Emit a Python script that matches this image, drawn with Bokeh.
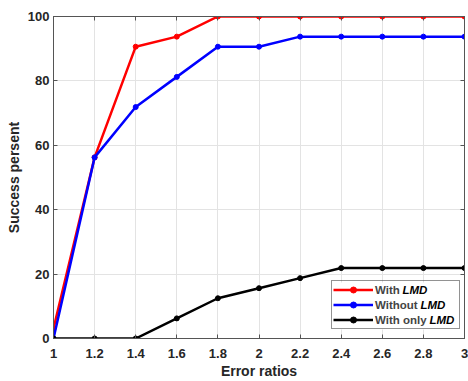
from bokeh.plotting import figure
from bokeh.models import (Range1d, LinearAxis, Legend, LegendItem, Label, FixedTicker, BoxAnnotation)
from bokeh.embed import file_html
from bokeh.resources import INLINE

# ---- data ----
x_ratios = [1.0, 1.2, 1.4, 1.6, 1.8, 2.0, 2.2, 2.4, 2.6, 2.8, 3.0]
with_lmd = [3.125, 56.25, 90.625, 93.75, 100, 100, 100, 100, 100, 100, 100]
without_lmd = [0, 56.25, 71.875, 81.25, 90.625, 90.625, 93.75, 93.75, 93.75, 93.75, 93.75]
only_lmd = [0, 0, 0, 6.25, 12.5, 15.625, 18.75, 21.875, 21.875, 21.875, 21.875]

x_ticks = [1, 1.2, 1.4, 1.6, 1.8, 2, 2.2, 2.4, 2.6, 2.8, 3]
x_tick_labels = ["1", "1.2", "1.4", "1.6", "1.8", "2", "2.2", "2.4", "2.6", "2.8", "3"]
y_ticks = [0, 20, 40, 60, 80, 100]

series_names = ["With", "Without", "With only"]
series_italic = ["LMD", "LMD", "LMD"]
series_colors = ["#ff0000", "#0000ff", "#000000"]

FONT = "Liberation Sans"
AXIS_COLOR = "#555555"
TEXT_COLOR = "#262626"

p = figure(width=468, height=381, output_backend="svg", toolbar_location=None,
           x_range=Range1d(1, 3), y_range=Range1d(0, 100),
           min_border_left=53, min_border_right=4, min_border_top=16, min_border_bottom=40)
p.outline_line_color = AXIS_COLOR
p.outline_line_width = 1
p.background_fill_color = "white"
p.border_fill_color = "white"

renderers = []
for ys, c in zip([with_lmd, without_lmd, only_lmd], series_colors):
    r = p.line(x_ratios, ys, line_color=c, line_width=2.5)
    s = p.scatter(x_ratios, ys, size=5, fill_color=c, line_color=c)
    renderers.append([r, s])

# axes styling
for ax in (p.xaxis[0], p.yaxis[0]):
    ax.axis_line_color = AXIS_COLOR
    ax.major_tick_line_color = AXIS_COLOR
    ax.major_tick_in = 4
    ax.major_tick_out = 0
    ax.minor_tick_line_color = None
    ax.major_label_text_font = FONT
    ax.major_label_text_font_style = "bold"
    ax.major_label_text_font_size = "13px"
    ax.major_label_text_color = TEXT_COLOR
    ax.major_label_text_line_height = 1.0
    ax.axis_label_text_font = FONT
    ax.axis_label_text_font_style = "bold"
    ax.axis_label_text_font_size = "14px"
    ax.axis_label_text_color = TEXT_COLOR
    ax.axis_label_text_line_height = 1.0

p.xaxis[0].ticker = FixedTicker(ticks=x_ticks)
p.xaxis[0].major_label_overrides = {t: l for t, l in zip(x_ticks, x_tick_labels)}
p.xaxis[0].axis_label = "Error ratios"
p.xaxis[0].major_label_standoff = 10
p.xaxis[0].axis_label_standoff = 2
p.yaxis[0].ticker = FixedTicker(ticks=y_ticks)
p.yaxis[0].axis_label = "Success persent"
p.yaxis[0].major_label_standoff = 4
p.yaxis[0].axis_label_standoff = 3

# box axes (top/right) with inward ticks, no labels
top = LinearAxis(ticker=FixedTicker(ticks=x_ticks), major_label_text_font_size="0px",
                 major_tick_in=4, major_tick_out=0, minor_tick_line_color=None,
                 axis_line_color=AXIS_COLOR, major_tick_line_color=AXIS_COLOR,
                 major_label_standoff=0)
right = LinearAxis(ticker=FixedTicker(ticks=y_ticks), major_label_text_font_size="0px",
                   major_tick_in=4, major_tick_out=0, minor_tick_line_color=None,
                   axis_line_color=AXIS_COLOR, major_tick_line_color=AXIS_COLOR,
                   major_label_standoff=0)
p.add_layout(top, "above")
p.add_layout(right, "right")

p.xgrid.ticker = FixedTicker(ticks=x_ticks)
p.ygrid.ticker = FixedTicker(ticks=y_ticks)
p.grid.grid_line_color = "#e3e3e3"
p.grid.grid_line_width = 1

# white backing for the legend (hides the grid behind it)
p.add_layout(BoxAnnotation(left=278, right=405, bottom=9, top=56,
                           left_units="screen", right_units="screen",
                           bottom_units="screen", top_units="screen",
                           fill_color="white", fill_alpha=1.0, line_color=None,
                           level="underlay"))

# italic "LMD" parts of the legend labels (screen units, relative to frame)
lmd_x = [349, 367, 376]
lmd_y = [48.5, 33.5, 18.5]
for txt, lx, ly in zip(series_italic, lmd_x, lmd_y):
    p.add_layout(Label(x=lx, y=ly, x_units="screen", y_units="screen", text=txt,
                       text_font=FONT, text_font_style="bold italic", text_font_size="11.5px",
                       text_baseline="middle", text_align="left", text_color="black"))

legend = Legend(items=[LegendItem(label=n, renderers=rs) for n, rs in zip(series_names, renderers)],
                location=(278, 9), orientation="vertical",
                padding=1, spacing=0, margin=0,
                label_height=15, glyph_height=15, glyph_width=40, label_standoff=2,
                label_width=83,
                label_text_font=FONT, label_text_font_style="bold", label_text_font_size="11.5px",
                border_line_color=TEXT_COLOR, border_line_width=1,
                background_fill_alpha=0.0)
p.add_layout(legend, "center")

open("out.html", "w").write(file_html(p, INLINE))
